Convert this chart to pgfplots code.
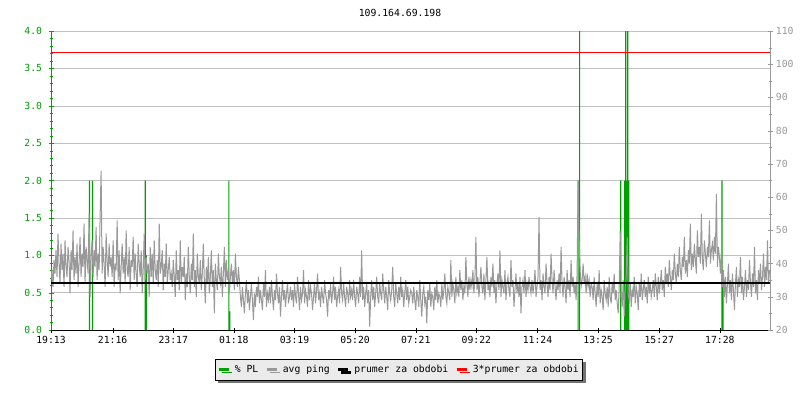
\documentclass[border=0pt]{standalone}
\usepackage{fontspec}
\setmainfont{DejaVu Sans Mono}
\usepackage{pgfplots}
\pgfplotsset{compat=1.18}
\usetikzlibrary{shadows}
\definecolor{plgreen}{HTML}{00A000}
\definecolor{pinggray}{HTML}{999999}
\definecolor{gridgray}{HTML}{C0C0C0}
\definecolor{leggray}{HTML}{EBEBEB}

\pgfplotsset{
  chartbase/.style={
    at={(51bp,70bp)}, anchor=south west,
    scale only axis, width=719bp, height=299bp,
    xmin=0, xmax=1435,
    tick align=inside,
    major tick length=5bp, minor tick length=3bp,
  },
}

\begin{document}
\fontsize{9.8}{11}\selectfont
\begin{tikzpicture}[x=1bp,y=1bp]
\useasboundingbox (0,0) rectangle (800,400);
\node at (400,387) {109.164.69.198};

% left axis: packet loss in %
\begin{axis}[chartbase,
    ymin=0, ymax=4,
    axis x line=bottom, axis y line=left,
    x axis line style={black,-},
    y axis line style={plgreen,-},
    xtick={0,123,244,365,486,607,728,849,971,1092,1214,1335},
    xticklabels={19:13,21:16,23:17,01:18,03:19,05:20,07:21,09:22,11:24,13:25,15:27,17:28},
    x tick style={black},
    ytick={0,0.5,...,4},
    yticklabels={0.0,0.5,1.0,1.5,2.0,2.5,3.0,3.5,4.0},
    minor y tick num=4,
    y tick style={plgreen},
    yticklabel style={plgreen, xshift=-3bp},
    ymajorgrids, grid style={gridgray},
]
% % PL (minutes since 19:13, percent)
\addplot[ybar, bar width=1.2bp, bar shift=0pt, draw=none, fill=plgreen] coordinates {
  (77,2) (83,2) (188,2) (190,1) (355,2) (357,0.25)
  (1052,2) (1055,6) (1137,2) (1145,2) (1147,6) (1149,2)
  (1151,6) (1153,2) (1339,2) (1341,0.8)
};
\end{axis}

% right axis: ping in ms
\begin{axis}[chartbase,
    ymin=20, ymax=110,
    axis x line=none, axis y line=right,
    y axis line style={pinggray,-},
    ytick={20,30,...,110},
    yticklabels={20,30,40,50,60,70,80,90,100,110},
    minor y tick num=1,
    y tick style={pinggray},
    yticklabel style={pinggray},
    legend columns=-1,
    legend style={at={(0.484,-0.097)}, anchor=north,
      draw=black, fill=leggray,
      drop shadow={shadow xshift=3bp, shadow yshift=-3bp, fill=black!55, opacity=1},
      inner xsep=2bp, inner ysep=4bp,
      /tikz/every odd column/.append style={column sep=3bp},
      /tikz/every even column/.append style={column sep=5bp}},
    legend image code/.code={\draw[#1,line width=2.5bp] (0bp,0bp) -- (10bp,0bp);},
]
\addlegendimage{plgreen}
\addlegendentry{\% PL}

% avg ping, one value every 2 minutes (ms)
\addplot[pinggray, line width=1bp, no marks] table[x expr=\coordindex*2, y index=0, header=false, row sep=\\] {
35\\38\\33\\41\\37\\44\\36\\49\\40\\34\\46\\38\\43\\33\\47\\39\\36\\45\\41\\31\\44\\38\\50\\35\\42\\37\\46\\33\\40\\48\\36\\43\\39\\52\\34\\45\\41\\37\\55\\30\\42\\47\\36\\44\\39\\51\\35\\43\\38\\54\\68\\37\\45\\40\\33\\49\\41\\36\\46\\39\\
42\\36\\47\\33\\40\\38\\53\\35\\44\\31\\39\\46\\37\\42\\34\\50\\38\\36\\45\\32\\41\\39\\48\\35\\43\\37\\33\\46\\40\\36\\44\\31\\38\\49\\35\\42\\37\\40\\30\\45\\36\\43\\34\\47\\38\\35\\41\\33\\52\\37\\39\\44\\32\\40\\36\\46\\34\\38\\42\\35\\
37\\33\\41\\36\\30\\44\\35\\38\\32\\47\\34\\39\\36\\42\\29\\37\\33\\45\\36\\31\\40\\35\\49\\33\\38\\30\\43\\36\\34\\41\\32\\37\\46\\35\\28\\39\\34\\42\\31\\36\\44\\33\\38\\25\\40\\35\\32\\43\\36\\34\\39\\30\\37\\45\\33\\41\\35\\38\\31\\36\\
40\\34\\38\\32\\43\\36\\33\\39\\35\\30\\27\\33\\29\\25\\31\\35\\28\\32\\26\\30\\34\\29\\23\\31\\27\\33\\30\\36\\28\\32\\29\\26\\34\\30\\38\\27\\31\\29\\33\\28\\35\\30\\26\\32\\29\\37\\31\\28\\33\\24\\30\\35\\29\\32\\27\\31\\34\\28\\30\\33\\
29\\32\\27\\34\\30\\28\\36\\31\\26\\33\\29\\31\\38\\28\\32\\30\\27\\35\\29\\33\\31\\26\\30\\34\\28\\32\\37\\29\\31\\27\\33\\30\\28\\35\\31\\29\\24\\32\\30\\34\\28\\31\\36\\29\\33\\27\\30\\32\\28\\39\\31\\29\\34\\30\\27\\33\\31\\28\\35\\30\\
32\\29\\35\\30\\27\\33\\31\\28\\36\\30\\44\\29\\33\\27\\31\\34\\28\\32\\21\\30\\35\\29\\33\\27\\31\\36\\30\\28\\34\\31\\29\\37\\32\\28\\33\\30\\26\\35\\31\\29\\32\\39\\30\\27\\34\\31\\28\\33\\29\\36\\30\\32\\27\\31\\35\\29\\33\\28\\30\\32\\
31\\28\\33\\29\\26\\32\\30\\27\\35\\29\\24\\31\\33\\28\\30\\22\\32\\29\\34\\27\\31\\30\\26\\33\\29\\35\\28\\31\\30\\27\\34\\29\\32\\37\\30\\28\\33\\31\\29\\41\\30\\34\\32\\28\\36\\31\\33\\30\\38\\32\\35\\29\\33\\31\\42\\34\\30\\36\\32\\35\\
33\\38\\31\\35\\48\\32\\36\\30\\34\\39\\33\\31\\37\\29\\35\\42\\32\\34\\30\\36\\33\\40\\31\\35\\28\\34\\37\\32\\44\\30\\35\\33\\31\\38\\29\\34\\36\\32\\30\\41\\33\\35\\27\\32\\37\\31\\34\\30\\36\\25\\33\\35\\31\\38\\30\\34\\32\\36\\33\\31\\
35\\31\\34\\38\\30\\33\\36\\54\\32\\35\\29\\37\\33\\31\\40\\34\\30\\36\\32\\43\\35\\31\\38\\33\\29\\35\\32\\37\\31\\45\\34\\30\\36\\33\\28\\38\\32\\35\\30\\41\\33\\36\\31\\34\\29\\37\\65\\48\\38\\33\\35\\40\\34\\36\\31\\37\\33\\35\\30\\34\\
33\\29\\36\\31\\27\\34\\30\\38\\28\\32\\30\\26\\35\\31\\29\\33\\27\\36\\30\\28\\34\\31\\37\\29\\32\\28\\25\\33\\50\\30\\27\\35\\24\\33\\36\\48\\31\\29\\34\\27\\32\\30\\36\\28\\33\\31\\26\\34\\30\\37\\29\\32\\35\\30\\33\\28\\36\\31\\34\\30\\
32\\35\\30\\37\\33\\29\\36\\31\\34\\38\\32\\35\\30\\39\\34\\37\\33\\41\\36\\32\\38\\35\\43\\37\\34\\40\\36\\45\\38\\35\\42\\39\\48\\37\\41\\36\\44\\40\\52\\38\\43\\39\\46\\41\\37\\50\\42\\45\\40\\55\\41\\38\\47\\43\\39\\45\\42\\53\\40\\44\\
46\\41\\48\\43\\61\\39\\45\\42\\37\\44\\33\\38\\30\\36\\28\\34\\40\\31\\35\\29\\37\\32\\26\\34\\39\\30\\35\\33\\42\\31\\36\\29\\33\\38\\30\\35\\32\\41\\34\\30\\37\\33\\45\\31\\35\\29\\38\\34\\40\\32\\36\\43\\33\\39\\35\\47\\34\\38\\
};
\addlegendentry{avg ping}

\addplot[black, line width=2.5bp, no marks] coordinates {(0,34.1) (1435,34.1)};
\addlegendentry{prumer za obdobi}

\addplot[red, line width=1.3bp, no marks] coordinates {(0,103.6) (1435,103.6)};
\addlegendentry{3*prumer za obdobi}
\end{axis}
\end{tikzpicture}
\end{document}
